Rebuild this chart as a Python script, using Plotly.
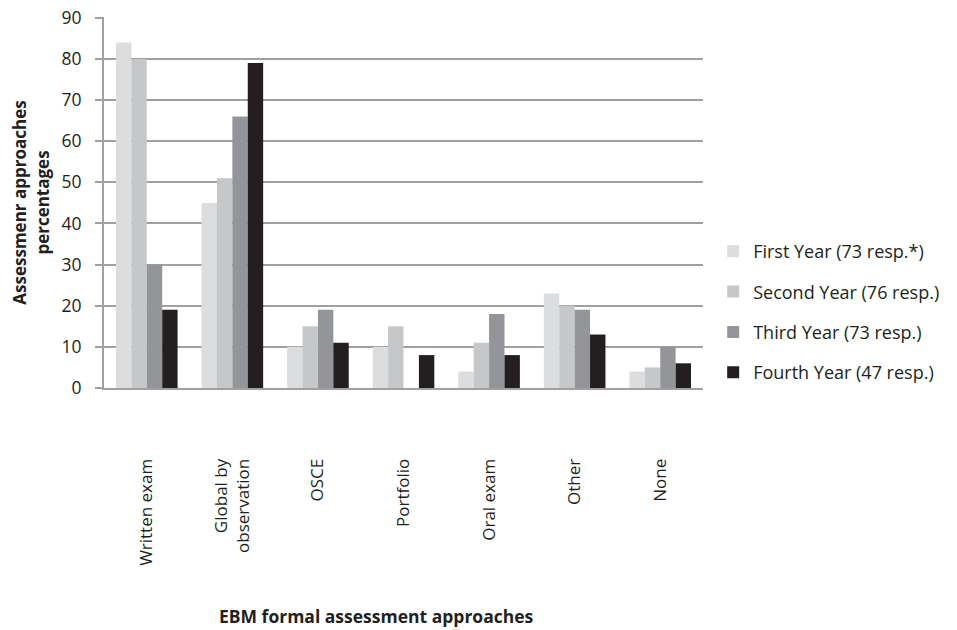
import plotly.graph_objects as go

categories = ["Written exam", "Global by<br>observation", "OSCE", "Portfolio", "Oral exam", "Other", "None"]
series_names = ["First Year (73 resp.*)", "Second Year (76 resp.)", "Third Year (73 resp.)", "Fourth Year (47 resp.)"]
first_year = [84, 45, 10, 10, 4, 23, 4]
second_year = [80, 51, 15, 15, 11, 20, 5]
third_year = [30, 66, 19, 0, 18, 19, 10]
fourth_year = [19, 79, 11, 8, 8, 13, 6]
colors = ["#dcdddf", "#c6c7c9", "#949598", "#231f20"]
y_ticks = [0, 10, 20, 30, 40, 50, 60, 70, 80, 90]

font_family = "'Open Sans', 'Noto Sans', sans-serif"
text_color = "#231f20"

fig = go.Figure()
for i, (name, vals) in enumerate(zip(series_names, [first_year, second_year, third_year, fourth_year])):
    fig.add_trace(go.Bar(
        x=categories, y=vals, name=name,
        marker=dict(color=colors[i], line=dict(width=0)),
        legendgroup=f"g{i}",
    ))

fig.update_layout(
    width=957, height=630,
    margin=dict(l=104, r=247, t=17, b=242),
    barmode="group", bargap=0.28, bargroupgap=0,
    plot_bgcolor="white", paper_bgcolor="white",
    font=dict(family=font_family, size=17, color=text_color),
    showlegend=True,
    legend=dict(
        x=1.017, y=0.205, xanchor="left", yanchor="middle",
        font=dict(size=18, color=text_color),
        tracegroupgap=14, itemwidth=30,
        bgcolor="rgba(0,0,0,0)",
    ),
    xaxis=dict(
        automargin=False,
        showline=True, linecolor="#a0a0a0", linewidth=2,
        ticks="outside", ticklen=62, tickcolor="rgba(0,0,0,0)",
        tickangle=-90, tickfont=dict(size=17, color=text_color),
        showgrid=False,
    ),
    yaxis=dict(
        automargin=False,
        range=[0, 90.2], tickvals=y_ticks,
        showline=True, linecolor="#a0a0a0", linewidth=2,
        ticks="outside", ticklen=7, tickcolor="#a0a0a0", tickwidth=2,
        ticklabelstandoff=10,
        showgrid=True, gridcolor="#a0a0a0", gridwidth=2,
        tickfont=dict(size=17.5, color=text_color),
        title=dict(text="<b>Assessmenr approaches<br>percentages</b>",
                   font=dict(size=17, color=text_color), standoff=8),
        zeroline=False,
    ),
    annotations=[dict(
        text="<b>EBM formal assessment approaches</b>",
        xref="paper", yref="paper", x=0.455, y=-0.615,
        xanchor="center", yanchor="middle", showarrow=False,
        font=dict(size=17.5, color=text_color),
    )],
)

fig.write_html("out.html", config={"displayModeBar": False},
               post_script="document.body.style.margin='0px';")
